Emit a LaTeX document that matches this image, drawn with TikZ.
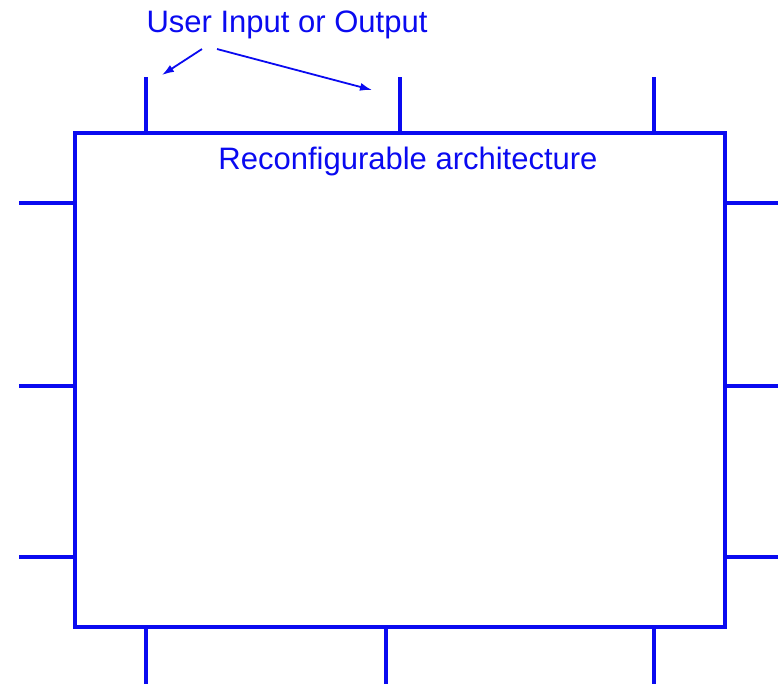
\documentclass[tikz,border=0pt]{standalone}
\usepackage{fontspec}
\setmainfont{Liberation Sans}
\usetikzlibrary{arrows.meta}
\definecolor{pinblue}{RGB}{10,10,240}
\begin{document}
\begin{tikzpicture}[x=1pt, y=-1pt, line width=3.2pt, pinblue,
        lbl/.style={font=\fontsize{31}{34}\selectfont, text=pinblue, inner sep=0pt},
        pointer/.style={-{Latex[length=12pt,width=8pt]}, line width=1.8pt}]
        \useasboundingbox (0,0) rectangle (778,684);
        % the architecture box
        \node[draw, minimum width=650pt, minimum height=494pt, inner sep=0pt] (arch) at (400,380) {};
        \node[lbl, anchor=base] (archlbl) at (408,170) {Reconfigurable architecture};
        % free ends of the pins
        \coordinate (t1) at (146,77);
        \coordinate (t2) at (400,77);
        \coordinate (t3) at (654,77);
        \coordinate (b1) at (146,684);
        \coordinate (b2) at (386,684);
        \coordinate (b3) at (654,684);
        \coordinate (l1) at (19,203);
        \coordinate (l2) at (19,386);
        \coordinate (l3) at (19,557);
        \coordinate (r1) at (778,203);
        \coordinate (r2) at (778,386);
        \coordinate (r3) at (778,557);
        % top pins
        \draw (arch.north -| t1) -- (t1);
        \draw (arch.north -| t2) -- (t2);
        \draw (arch.north -| t3) -- (t3);
        % bottom pins
        \draw (arch.south -| b1) -- (b1);
        \draw (arch.south -| b2) -- (b2);
        \draw (arch.south -| b3) -- (b3);
        % left pins
        \draw (arch.west |- l1) -- (l1);
        \draw (arch.west |- l2) -- (l2);
        \draw (arch.west |- l3) -- (l3);
        % right pins
        \draw (arch.east |- r1) -- (r1);
        \draw (arch.east |- r2) -- (r2);
        \draw (arch.east |- r3) -- (r3);
        % user input or output label with its pointers
        \node[lbl, anchor=base] (user) at (287,33) {User Input or Output};
        \coordinate (p1) at (162,75);
        \coordinate (p2) at (372,90);
        \draw[pointer] ([xshift=-85pt, yshift=-8pt]user.south) -- (p1);
        \draw[pointer] ([xshift=-70pt, yshift=-8pt]user.south) -- (p2);
    \end{tikzpicture}
\end{document}
